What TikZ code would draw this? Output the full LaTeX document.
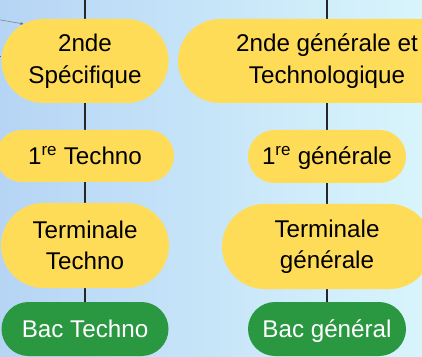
\documentclass[tikz,border=0pt]{standalone}
\usepackage{fontspec}
\setmainfont{Liberation Sans}
\usepackage{tikz}
\usetikzlibrary{shapes.misc, arrows, backgrounds, positioning}
\definecolor{fondg}{RGB}{182,213,245}
\definecolor{fondd}{RGB}{216,245,252}
\definecolor{jaune}{RGB}{255,220,88}
\definecolor{vert}{RGB}{42,151,65}
\tikzstyle{niveau} = [rounded rectangle, fill=jaune, inner sep=0pt, align=center, font=\fontsize{24.2}{31.5}\selectfont]
\tikzstyle{ligne} = [niveau, text height=19pt, text depth=2pt]
\tikzstyle{bac} = [ligne, fill=vert, text=white]
\tikzstyle{lien} = [line width=1.6pt, black!85]
\tikzstyle{arrow} = [gray!80!black, thin, ->, >=stealth]
\begin{document}
\begin{tikzpicture}[x=1pt, y=1pt]
        \useasboundingbox (0,0) rectangle (422,356);
        % filiere techno
        \node[niveau, minimum width=167pt, minimum height=84pt] (sp2) at (85,295) {2nde\\Spécifique};
        \node[ligne, minimum width=178pt, minimum height=52pt] (t1) at (85,200) {1\textsuperscript{re} Techno};
        \node[niveau, minimum width=168pt, minimum height=85pt] (tt) at (85,110.5) {Terminale\\Techno};
        \node[bac, minimum width=167pt, minimum height=54pt] (bt) at (85,27) {Bac Techno};
        % filiere generale
        \node[niveau, minimum width=298pt, minimum height=84pt] (gt2) at (327,295) {2nde générale et\\Technologique};
        \node[ligne, minimum width=158pt, minimum height=53pt] (g1) at (327,199.5) {1\textsuperscript{re} générale};
        \node[niveau, minimum width=210pt, minimum height=85pt] (tg) at (327,109.5) {Terminale\\générale};
        \node[bac, minimum width=158pt, minimum height=54pt] (bg) at (327,27) {Bac général};
        \coordinate (hautg) at (85,356);
        \coordinate (hautd) at (327,356);
        \coordinate (ext1) at (-2,336.5);
        \coordinate (ext2) at (-2,300);
        \begin{scope}[on background layer]
            \shade[left color=fondg, right color=fondd] (0,0) rectangle (422,356);
            \draw[lien] (hautg) -- (sp2) -- (t1) -- (tt) -- (bt);
            \draw[lien] (hautd) -- (gt2) -- (g1) -- (tg) -- (bg);
        \end{scope}
        \draw[arrow] (ext1) -- (sp2.149);
        \draw[gray!80!black, thin] (ext2) -- (sp2.west |- ext2);
    \end{tikzpicture}
\end{document}
